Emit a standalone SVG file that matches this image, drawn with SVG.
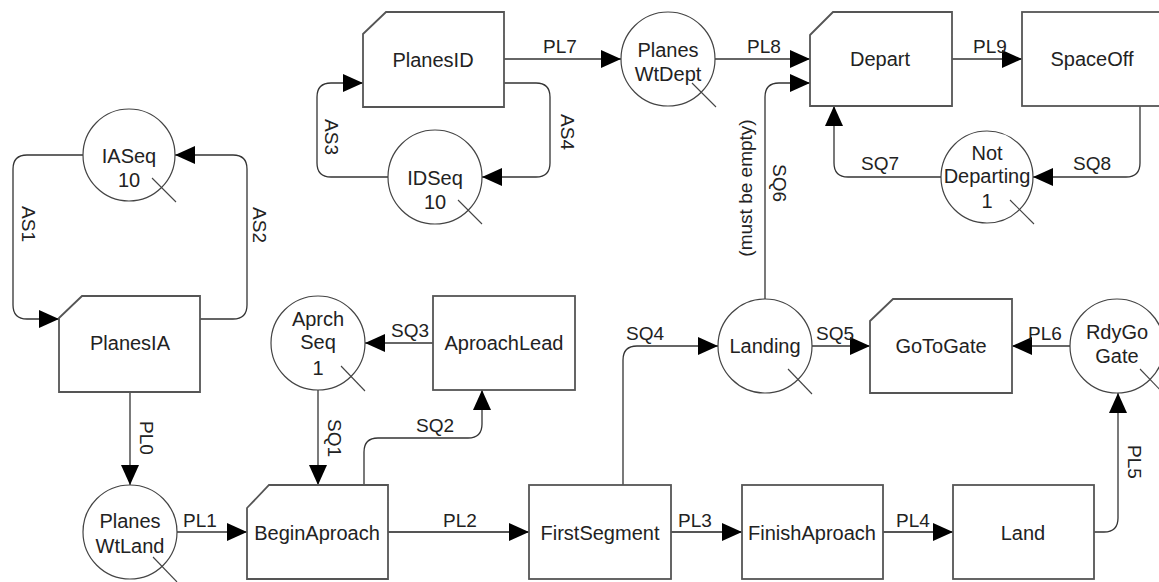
<svg xmlns="http://www.w3.org/2000/svg" width="1159" height="582" viewBox="0 0 1159 582">
  <defs>
    <style>
      .box { fill: #ffffff; stroke: #555555; stroke-width: 1.8; }
      .place { fill: #ffffff; stroke: #444444; stroke-width: 1.2; }
      .tick { stroke: #444444; stroke-width: 1.1; fill: none; }
      .name { font-family: "Liberation Sans", Arial, sans-serif; font-size: 20px; fill: #222222; text-anchor: middle; }
      .lbl { font-family: "Liberation Sans", Arial, sans-serif; font-size: 19px; fill: #222222; text-anchor: middle; }
      .arc { fill: none; stroke: #333333; stroke-width: 1.3; marker-end: url(#head); }
      .arc.heavy { stroke: #555555; stroke-width: 2; }
    </style>
    <marker id="head" viewBox="0 0 20 20" refX="20" refY="10" markerWidth="20" markerHeight="20" markerUnits="userSpaceOnUse" orient="auto">
      <path d="M0,1 L20,10 L0,19 z" fill="#000000"/>
    </marker>
  </defs>

  <rect width="1159" height="582" fill="#ffffff"/>

  <!-- connectors -->
  <g id="connectors">
    <path id="AS1" class="arc" d="M83,155 H27 Q13,155 13,169 V305 Q13,319 27,319 H59"/>
    <path id="AS2" class="arc" d="M200,319 H233 Q247,319 247,305 V169 Q247,155 233,155 H175"/>
    <path id="AS3" class="arc" d="M388,177 H331 Q317,177 317,163 V97 Q317,83 331,83 H363"/>
    <path id="AS4" class="arc" d="M504,83 H536 Q550,83 550,97 V163 Q550,177 536,177 H482"/>
    <path id="PL7" class="arc" d="M504,59 H621"/>
    <path id="PL8" class="arc" d="M715,59 H810"/>
    <path id="SQ6" class="arc" d="M765,299 V97 Q765,83 779,83 H810"/>
    <path id="PL9" class="arc" d="M952,59 H1022"/>
    <path id="SQ8" class="arc" d="M1140,106 V163 Q1140,177 1126,177 H1033"/>
    <path id="SQ7" class="arc" d="M941,177 H848 Q834,177 834,163 V106"/>
    <path id="PL0" class="arc" d="M130,392 V485"/>
    <path id="PL1" class="arc" d="M177,532 H247"/>
    <path id="SQ1" class="arc" d="M318,390 V485"/>
    <path id="SQ2" class="arc" d="M364,485 V452 Q364,438 378,438 H468 Q482,438 482,424 V390"/>
    <path id="SQ3" class="arc" d="M433,343 H365"/>
    <path id="PL2" class="arc heavy" d="M388,532 H529"/>
    <path id="SQ4" class="arc" d="M623,485 V360 Q623,346 637,346 H718"/>
    <path id="PL3" class="arc heavy" d="M671,532 H742"/>
    <path id="PL4" class="arc heavy" d="M883,532 H953"/>
    <path id="PL5" class="arc" d="M1094,532 H1104 Q1118,532 1118,518 V393"/>
    <path id="SQ5" class="arc" d="M812,346 H870"/>
    <path id="PL6" class="arc" d="M1070,346 H1012"/>

    <!-- connector labels -->
    <text class="lbl" transform="translate(29,224) rotate(90)" dy="0.35em">AS1</text>
    <text class="lbl" transform="translate(260,225) rotate(90)" dy="0.35em">AS2</text>
    <text class="lbl" transform="translate(332,137) rotate(90)" dy="0.35em">AS3</text>
    <text class="lbl" transform="translate(568,132) rotate(90)" dy="0.35em">AS4</text>
    <text class="lbl" transform="translate(147,438) rotate(90)" dy="0.35em">PL0</text>
    <text class="lbl" transform="translate(335,438) rotate(90)" dy="0.35em">SQ1</text>
    <text class="lbl" transform="translate(1135,462) rotate(90)" dy="0.35em">PL5</text>
    <text class="lbl" transform="translate(780,183) rotate(90)" dy="0.35em">SQ6</text>
    <text class="lbl" transform="translate(745,188) rotate(-90)" dy="0.35em">(must be empty)</text>
    <text class="lbl" x="560" y="53">PL7</text>
    <text class="lbl" x="764" y="53">PL8</text>
    <text class="lbl" x="990" y="53">PL9</text>
    <text class="lbl" x="880" y="170">SQ7</text>
    <text class="lbl" x="1092" y="170">SQ8</text>
    <text class="lbl" x="410" y="337">SQ3</text>
    <text class="lbl" x="435" y="432">SQ2</text>
    <text class="lbl" x="645" y="340">SQ4</text>
    <text class="lbl" x="835" y="340">SQ5</text>
    <text class="lbl" x="1045" y="340">PL6</text>
    <text class="lbl" x="200" y="527">PL1</text>
    <text class="lbl" x="460" y="527">PL2</text>
    <text class="lbl" x="695" y="527">PL3</text>
    <text class="lbl" x="913" y="527">PL4</text>
  </g>

  <!-- places (circles) -->
  <g id="IASeq">
    <circle class="place" cx="129" cy="155" r="46"/>
    <line class="tick" x1="152" y1="178" x2="176" y2="202"/>
    <text class="name" x="129" y="163">IASeq</text>
    <text class="name" x="129" y="187">10</text>
  </g>
  <g id="IDSeq">
    <circle class="place" cx="435" cy="177" r="47"/>
    <line class="tick" x1="458" y1="200" x2="482" y2="224"/>
    <text class="name" x="435" y="185">IDSeq</text>
    <text class="name" x="435" y="209">10</text>
  </g>
  <g id="PlanesWtDept">
    <circle class="place" cx="668" cy="59" r="47"/>
    <line class="tick" x1="692" y1="83" x2="716" y2="107"/>
    <text class="name" x="668" y="57">Planes</text>
    <text class="name" x="668" y="81">WtDept</text>
  </g>
  <g id="NotDeparting">
    <circle class="place" cx="987" cy="177" r="46"/>
    <line class="tick" x1="1010" y1="200" x2="1034" y2="224"/>
    <text class="name" x="987" y="160">Not</text>
    <text class="name" x="987" y="183">Departing</text>
    <text class="name" x="987" y="208">1</text>
  </g>
  <g id="AprchSeq">
    <circle class="place" cx="318" cy="343" r="47"/>
    <line class="tick" x1="341" y1="366" x2="365" y2="391"/>
    <text class="name" x="318" y="326">Aprch</text>
    <text class="name" x="318" y="349">Seq</text>
    <text class="name" x="318" y="375">1</text>
  </g>
  <g id="Landing">
    <circle class="place" cx="765" cy="346" r="47"/>
    <line class="tick" x1="788" y1="369" x2="812" y2="394"/>
    <text class="name" x="765" y="353">Landing</text>
  </g>
  <g id="RdyGoGate">
    <circle class="place" cx="1117" cy="346" r="47"/>
    <line class="tick" x1="1140" y1="369" x2="1164" y2="394"/>
    <text class="name" x="1117" y="339">RdyGo</text>
    <text class="name" x="1117" y="363">Gate</text>
  </g>
  <g id="PlanesWtLand">
    <circle class="place" cx="130" cy="532" r="47"/>
    <line class="tick" x1="153" y1="557" x2="177" y2="582"/>
    <text class="name" x="130" y="528">Planes</text>
    <text class="name" x="130" y="553">WtLand</text>
  </g>

  <!-- transitions (boxes); chamfered corner marks an entry transition -->
  <g id="PlanesIA">
    <path class="box" d="M59,318 L82,296 H200 V392 H59 Z"/>
    <text class="name" x="130" y="350">PlanesIA</text>
  </g>
  <g id="PlanesID">
    <path class="box" d="M363,34 L386,12 H504 V107 H363 Z"/>
    <text class="name" x="433" y="67">PlanesID</text>
  </g>
  <g id="Depart">
    <path class="box" d="M810,35 L833,12 H952 V106 H810 Z"/>
    <text class="name" x="880" y="66">Depart</text>
  </g>
  <g id="SpaceOff">
    <rect class="box" x="1022" y="12" width="141" height="94"/>
    <text class="name" x="1092" y="66">SpaceOff</text>
  </g>
  <g id="AproachLead">
    <rect class="box" x="433" y="296" width="142" height="94"/>
    <text class="name" x="504" y="350">AproachLead</text>
  </g>
  <g id="GoToGate">
    <path class="box" d="M870,321 L893,299 H1012 V393 H870 Z"/>
    <text class="name" x="941" y="353">GoToGate</text>
  </g>
  <g id="BeginAproach">
    <path class="box" d="M247,508 L269,485 H388 V579 H247 Z"/>
    <text class="name" x="317" y="540">BeginAproach</text>
  </g>
  <g id="FirstSegment">
    <rect class="box" x="529" y="485" width="142" height="94"/>
    <text class="name" x="600" y="540">FirstSegment</text>
  </g>
  <g id="FinishAproach">
    <rect class="box" x="742" y="485" width="141" height="94"/>
    <text class="name" x="812" y="540">FinishAproach</text>
  </g>
  <g id="Land">
    <rect class="box" x="953" y="485" width="141" height="94"/>
    <text class="name" x="1023" y="540">Land</text>
  </g>
</svg>
